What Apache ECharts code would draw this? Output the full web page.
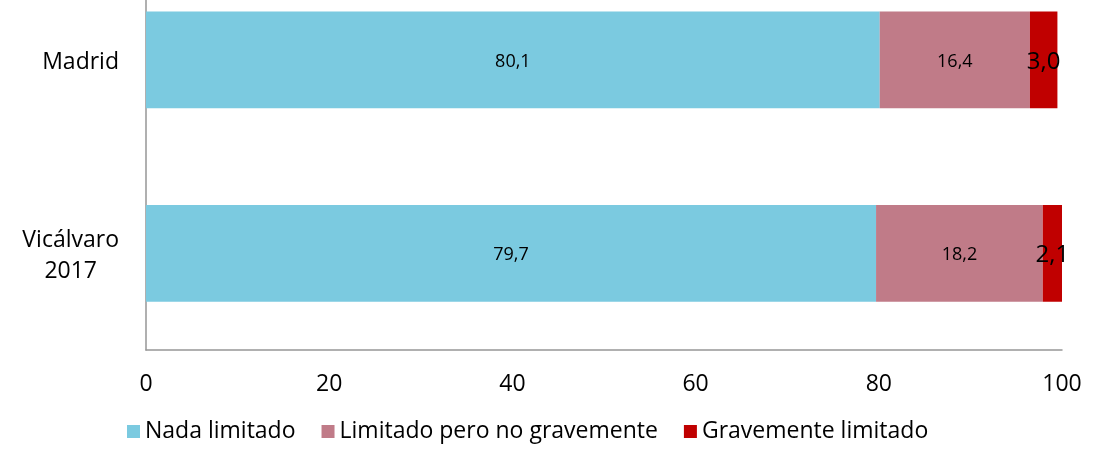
<!DOCTYPE html>
<html>
<head>
<meta charset="utf-8">
<script src="https://cdn.jsdelivr.net/npm/echarts@6/dist/echarts.min.js"></script>
<style>
  html, body { margin: 0; padding: 0; background: #fff; overflow: hidden; }
  /* el gráfico original está recortado por arriba: desplazamos el lienzo */
  #chart { width: 1115px; height: 513px; margin-top: -37px; }
</style>
</head>
<body>
<div id="chart"></div>
<script>
// datos
var categorias = ["Vicálvaro 2017", "Madrid"];
var nadaLimitado = [79.7, 80.1];
var limitadoNoGrave = [18.2, 16.4];
var gravLimitado = [2.1, 3.0];
var ticksX = [0, 20, 40, 60, 80, 100];

var fuente = "Open Sans";

function etiqueta(p) {
  return p.value.toFixed(1).replace(".", ",");
}

var chart = echarts.init(document.getElementById("chart"));
var option = {
  animation: false,
  textStyle: { fontFamily: fuente },
  grid: {
    left: 146,
    right: 53,
    top: 0,
    height: 387
  },
  legend: {
    left: 122,
    top: 452,
    itemWidth: 13,
    itemHeight: 13,
    itemGap: 26,
    icon: "rect",
    textStyle: { fontSize: 23, color: "#000", fontFamily: fuente },
    data: ["Nada limitado", "Limitado pero no gravemente", "Gravemente limitado"]
  },
  xAxis: {
    type: "value",
    min: 0,
    max: 100,
    interval: 20,
    axisLine: { show: true, lineStyle: { color: "#969696", width: 1.5 } },
    axisTick: { show: false },
    splitLine: { show: false },
    axisLabel: {
      fontSize: 23,
      color: "#000",
      margin: 23,
      formatter: function (v) { return ticksX.indexOf(v) >= 0 ? String(v) : ""; }
    }
  },
  yAxis: {
    type: "category",
    data: categorias,
    axisLine: { show: true, lineStyle: { color: "#969696", width: 1.5 } },
    axisTick: { show: false },
    axisLabel: {
      fontSize: 23,
      color: "#000",
      margin: 27,
      lineHeight: 31,
      formatter: function (v) {
        return v.split(" ").map(function (s) { return "{a|" + s + "}"; }).join("\n");
      },
      rich: { a: { align: "center", fontSize: 23, lineHeight: 31, color: "#000", padding: [6, 0, 0, 0] } }
    }
  },
  series: [
    {
      name: "Nada limitado",
      type: "bar",
      stack: "total",
      barCategoryGap: "50%",
      data: nadaLimitado,
      itemStyle: { color: "#7BCAE0" },
      label: { show: true, position: "inside", color: "#000", fontSize: 18, offset: [0, 2], formatter: etiqueta }
    },
    {
      name: "Limitado pero no gravemente",
      type: "bar",
      stack: "total",
      data: limitadoNoGrave,
      itemStyle: { color: "#C07B88" },
      label: { show: true, position: "inside", color: "#000", fontSize: 18, offset: [0, 2], formatter: etiqueta }
    },
    {
      name: "Gravemente limitado",
      type: "bar",
      stack: "total",
      data: gravLimitado,
      itemStyle: { color: "#C00000" },
      label: { show: true, position: "inside", color: "#000", fontSize: 24, offset: [0, 2], formatter: etiqueta }
    }
  ]
};
chart.setOption(option);
</script>
</body>
</html>
